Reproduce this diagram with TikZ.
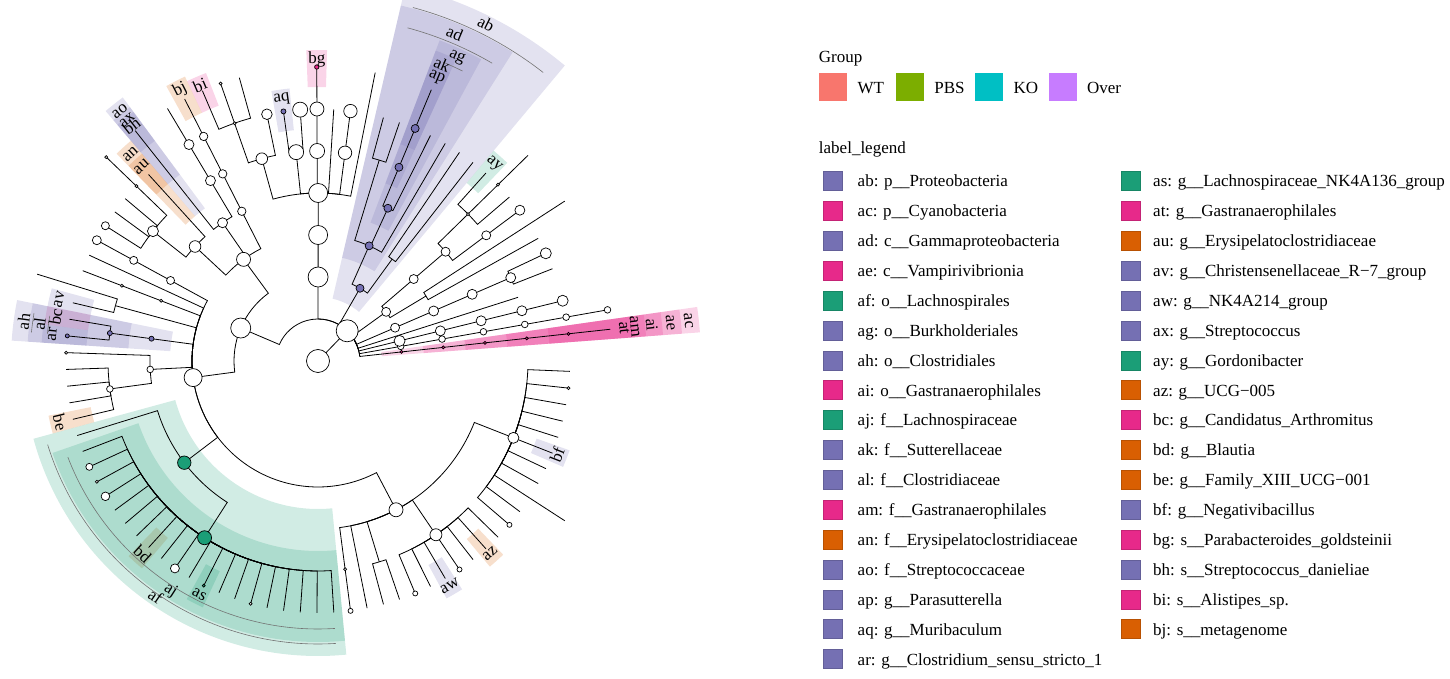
\documentclass[tikz,border=0pt]{standalone}
\usepackage{fontspec}
\setmainfont{Liberation Serif}
\usetikzlibrary{calc}
\definecolor{pu}{HTML}{7570B3}
\definecolor{pk}{HTML}{E7298A}
\definecolor{gr}{HTML}{1B9E77}
\definecolor{og}{HTML}{D95F02}
\definecolor{wt}{HTML}{F8766D}
\definecolor{pbs}{HTML}{7CAE00}
\definecolor{ko}{HTML}{00BFC4}
\definecolor{over}{HTML}{C77CFF}
\newcommand\lgfont{\fontsize{17}{17}\selectfont}
\tikzset{
 branch/.style={line width=0.8pt},
 band/.style={fill opacity=0.2},
 cladearc/.style={draw=black!55,line width=0.6pt},
 taxdot/.style={draw=black,line width=0.7pt},
 tiplabel/.style={font=\lgfont,inner sep=0pt},
 legtext/.style={font=\lgfont,anchor=base west,inner sep=0pt}
}
\begin{document}
\begin{tikzpicture}[x=1pt,y=1pt]
\useasboundingbox (-318,-318) rectangle (1132,361);
\foreach \ka/\kb/\ra/\rb/\hc in {0/0/64/383/pk,0/0/106/365/pk,0/0/148/346/pk,0/0/190/329/pk,0/0/232/318/pk,
 11/11/232/274/gr,12/18/64/385/pu,14/18/106/365/pu,15/16/148/343/pu,16/16/190/332/pu,16/16/232/317/pu,
 22/22/274/311/pk,24/24/232/274/pu,28/28/274/309/pk,29/29/274/314/og,
 32/32/274/310/pu,32/32/232/316/pu,32/32/190/328/pu,33/33/232/272/og,33/33/190/289/og,
 42/42/232/276/pu,43/43/232/276/pk,44/44/232/277/pu,43/44/190/291/pu,43/44/148/307/pu,
 49/49/232/275/og,58/58/232/272/og,62/62/232/272/gr,51/70/190/281/gr,50/70/148/295/gr,
 77/77/232/270/pu,80/80/232/268/og,87/87/232/267/pu}{
 \pgfmathsetmacro\aA{6.2+3.82*(\ka-0.5)}
 \pgfmathsetmacro\aB{6.2+3.82*(\kb+0.5)}
 \fill[\hc,band] (\aA:\ra) arc[start angle=\aA,end angle=\aB,radius=\ra] -- (\aB:\rb) arc[start angle=\aB,end angle=\aA,radius=\rb] -- cycle;
}
\foreach \ka/\kb/\ra in {12/18/366,14/18/345,15/16/324,43/44/272,43/44/288,51/70/268,50/70/283}{
 \pgfmathsetmacro\aA{6.2+3.82*\ka}
 \pgfmathsetmacro\aB{6.2+3.82*\kb}
 \draw[cladearc] (\aA:\ra) arc[start angle=\aA,end angle=\aB,radius=\ra];
}
\draw[branch] (0,0) -- ({6.2+3.82*10.41}:42);
\foreach \pk/\pl/\qk/\ql in {10.41/1/0/2,10.41/1/1/2,10.41/1/2/2,10.41/1/3/2,10.41/1/4.5/2,10.41/1/7.75/2,10.41/1/14.08/2,10.41/1/21.92/2,10.41/1/39.45/2,
 0/2/0/3,0/3/0/4,0/4/0/5,0/5/0/6,0/6/0/7,
 1/2/1/3,1/3/1/4,1/4/1/5,1/5/1/6,1/6/1/7,
 2/2/2/3,2/3/2/4,2/4/2/5,2/5/2/6,
 3/2/3/3,3/3/3/4,3/4/3/5,
 4.5/2/4.5/3,4.5/3/4.5/4,4.5/4/4.5/5,4.5/5/4/6,4.5/5/5/6,
 7.75/2/6.5/3,7.75/2/9/3,6.5/3/6/4,6.5/3/7/4,6/4/6/5,6/5/6/6,7/4/7/5,7/5/7/6,7/6/7/7,
 9/3/9/4,9/4/8/5,9/4/10/5,8/5/8/6,10/5/9/6,10/5/10/6,10/5/11/6,10/6/10/7,
 14.08/2/12.5/3,14.08/2/15.67/3,12.5/3/12/4,12.5/3/13/4,12/4/12/5,12/5/12/6,13/4/13/5,13/5/13/6,
 15.67/3/14/4,15.67/3/15.5/4,15.67/3/17.5/4,14/4/14/5,14/5/14/6,15.5/4/15/5,15.5/4/16/5,15/5/15/6,16/5/16/6,16/6/16/7,17.5/4/17.5/5,17.5/5/17/6,17.5/5/18/6,
 21.92/2/21.92/3,21.92/3/21.92/4,21.92/4/19/5,21.92/4/20/5,21.92/4/21/5,21.92/4/22/5,21.92/4/23.5/5,21.92/4/26/5,
 19/5/19/6,19/6/19/7,20/5/20/6,21/5/21/6,22/5/22/6,22/6/22/7,23.5/5/23/6,23.5/5/24/6,26/5/25/6,26/5/27/6,27/6/26/7,27/6/27/7,27/6/28/7,
 39.45/2/31.42/3,39.45/2/47.48/3,
 31.42/3/29/4,31.42/3/31/4,31.42/3/34.25/4,29/4/29/5,29/5/29/6,29/6/29/7,31/4/30/5,31/4/32/5,30/5/30/6,30/6/30/7,32/5/32/6,32/6/32/7,
 34.25/4/33/5,34.25/4/35.5/5,33/5/33/6,35.5/5/34/6,35.5/5/35/6,35.5/5/36/6,35.5/5/37/6,34/6/34/7,
 47.48/3/38/4,47.48/3/39/4,47.48/3/40/4,47.48/3/41.5/4,47.48/3/43.5/4,47.48/3/46.25/4,47.48/3/55.25/4,47.48/3/76.3/4,
 38/4/38/5,38/5/38/6,39/4/39/5,39/5/39/6,40/4/40/5,40/5/40/6,41.5/4/41.5/5,41.5/5/41/6,41.5/5/42/6,41/6/41/7,
 43.5/4/43.5/5,43.5/5/43/6,43.5/5/44/6,46.25/4/45/5,46.25/4/47.5/5,45/5/45/6,47.5/5/46/6,47.5/5/47/6,47.5/5/48/6,47.5/5/49/6,
 55.25/4/50/5,55.25/4/60.5/5,50/5/50/6,
 76.3/4/71/5,76.3/4/72/5,76.3/4/73.5/5,76.3/4/78/5,76.3/4/87/5,71/5/71/6,72/5/72/6,73.5/5/73/6,73.5/5/74/6,84/6/84/7}{
 \pgfmathsetmacro\aA{6.2+3.82*\pk}
 \pgfmathsetmacro\aB{6.2+3.82*\qk}
 \pgfmathsetmacro\rA{42*\pl}
 \pgfmathsetmacro\rB{42*\ql}
 \draw[branch] (\aA:\rA) arc[start angle=\aA,end angle=\aB,radius=\rA] -- (\aB:\rB);
}
\foreach \pk/\qs/\qe in {60.5/51/70,78/75/81,87/82/92}
 \foreach \qk in {\qs,...,\qe}{
  \pgfmathsetmacro\aA{6.2+3.82*\pk}
  \pgfmathsetmacro\aB{6.2+3.82*\qk}
  \draw[branch] (\aA:210) arc[start angle=\aA,end angle=\aB,radius=210] -- (\aB:252);
 }
\foreach \ck/\cv/\cs/\cf in {10.41/0/11.5/white,10.41/1/11/white,
 0/2/1.5/pk,0/3/1.5/pk,0/4/1.5/pk,0/5/1.5/pk,0/6/1.5/pk,
 1/2/3.3/white,1/3/3.3/white,1/4/3.3/white,1/5/3.3/white,1/6/3.3/white,1/7/3.3/white,
 2/2/5.5/white,2/3/5/white,2/4/5/white,2/5/5/white,2/6/5.5/white,
 4.5/2/4.5/white,4.5/3/5/white,4.5/4/5/white,4.5/5/5/white,5/6/5.5/white,
 7.75/2/4.5/white,9/3/4.5/white,9/4/4.5/white,8/5/4.5/white,8/6/5/white,10/5/1.5/white,10/6/1.5/white,
 14.08/2/4/pu,15.67/3/4/pu,15.5/4/4/pu,16/5/4/pu,16/6/4/pu,
 21.92/2/10/white,21.92/3/9.5/white,21.92/4/9.5/white,20/5/6.7/white,20/6/6.7/white,22/5/7.5/white,22/6/7/white,22/7/2.2/pk,
 23.5/5/7.5/white,23/6/7.5/white,24/6/2.5/pu,26/5/5.8/white,25/6/5.3/white,27/6/1.5/white,27/7/1.5/white,
 39.45/2/10/white,31.42/3/7/white,47.48/3/9/white,
 29/4/4.2/white,29/5/4.2/white,29/6/4.2/white,31/4/5/white,30/5/5/white,30/6/5/white,34.25/4/5.8/white,35.5/5/5.5/white,34/6/1.5/white,34/7/1.5/white,37/6/4/white,
 38/4/4/white,38/5/4/white,38/6/4.5/white,40/4/1.5/white,40/5/1.5/white,43.5/4/2.5/pu,43.5/5/2.5/pu,44/6/2/pu,46.25/4/3.3/white,47.5/5/3.3/white,45/6/1.5/white,
 55.25/4/6.7/gr,60.5/5/7/gr,52/6/3.5/white,53/6/1.5/white,54/6/4.3/white,60/6/4.5/white,62/6/1.5/gr,65/6/1.5/white,
 76.3/4/7/white,71/5/1.5/white,71/6/2.5/white,78/5/6/white,75/6/2.5/white,78/6/2.5/white,87/5/5.5/white,82/6/2.5/white,91/6/1.5/white}{
 \pgfmathsetmacro\aA{6.2+3.82*\ck}
 \pgfmathsetmacro\rA{42*\cv}
 \filldraw[taxdot,fill=\cf] (\aA:\rA) circle[radius=\cs];
}
\foreach \tx/\tk/\tr in {ac/0/372.6,ae/0/354.4,ai/0/335.8,am/0/318.5,at/0/308,ay/11/264,
 ab/15/377,ad/16/355,ag/15.5/334,ak/16/322,ap/16/307.5,bg/22/302,aq/24/264,bi/28/300,bj/29/304,
 bh/32/300,ax/32/307,ao/32/319,au/33/262.5,an/33/279,av/42/266,bc/43/266,ar/44/267,al/43.5/281,ah/43.5/297,
 be/49/265,bd/58/261,as/62/262,aj/60.5/273,af/60/286,aw/77/260.6,az/80/258,bf/87/257}{
 \pgfmathsetmacro\aA{6.2+3.82*\tk}
 \pgfmathsetmacro\lrot{\aA<180 ? \aA-90 : \aA+90}
 \node[tiplabel,rotate=\lrot] (t-\tx) at (\aA:\tr) {\tx};
}
\node[legtext] (grp) at (500.75,298.5) {Group};
\foreach \gn/\gc/\gx in {WT/wt/515,PBS/pbs/591.8,KO/ko/671,Over/over/744.5}{
 \fill[\gc] (\gx-14,259.5) rectangle (\gx+14,287.5);
 \node[legtext] (grp-\gn) at (\gx+24.3,267) {\gn};
}
\node[legtext] (lgd) at (500.75,207) {label\_legend};
\foreach \ea/\eb/\ec [count=\ei from 0] in {ab/pu/p\_\_Proteobacteria,ac/pk/p\_\_Cyanobacteria,ad/pu/c\_\_Gammaproteobacteria,
 ae/pk/c\_\_Vampirivibrionia,af/gr/o\_\_Lachnospirales,ag/pu/o\_\_Burkholderiales,ah/pu/o\_\_Clostridiales,
 ai/pk/o\_\_Gastranaerophilales,aj/gr/f\_\_Lachnospiraceae,ak/pu/f\_\_Sutterellaceae,al/pu/f\_\_Clostridiaceae,
 am/pk/f\_\_Gastranaerophilales,an/og/f\_\_Erysipelatoclostridiaceae,ao/pu/f\_\_Streptococcaceae,
 ap/pu/g\_\_Parasutterella,aq/pu/g\_\_Muribaculum,ar/pu/g\_\_Clostridium\_sensu\_stricto\_1}{
 \filldraw[fill=\eb,draw=\eb!85!black,line width=0.4pt] (505.5,{170.5-29.875*\ei}) rectangle (524.5,{189.5-29.875*\ei});
 \node[legtext] (lg-\ea) at (539.5,{174-29.875*\ei}) {\ea: \ec};
}
\foreach \ea/\eb/\ec [count=\ei from 0] in {as/gr/g\_\_Lachnospiraceae\_NK4A136\_group,at/pk/g\_\_Gastranaerophilales,
 au/og/g\_\_Erysipelatoclostridiaceae,av/pu/g\_\_Christensenellaceae\_R−7\_group,aw/pu/g\_\_NK4A214\_group,
 ax/pu/g\_\_Streptococcus,ay/gr/g\_\_Gordonibacter,az/og/g\_\_UCG−005,bc/pk/g\_\_Candidatus\_Arthromitus,
 bd/og/g\_\_Blautia,be/og/g\_\_Family\_XIII\_UCG−001,bf/pu/g\_\_Negativibacillus,bg/pk/s\_\_Parabacteroides\_goldsteinii,
 bh/pu/s\_\_Streptococcus\_danieliae,bi/pk/s\_\_Alistipes\_sp.,bj/og/s\_\_metagenome}{
 \filldraw[fill=\eb,draw=\eb!85!black,line width=0.4pt] (803,{170.5-29.875*\ei}) rectangle (822,{189.5-29.875*\ei});
 \node[legtext] (lg-\ea) at (835,{174-29.875*\ei}) {\ea: \ec};
}
\end{tikzpicture}
\end{document}
